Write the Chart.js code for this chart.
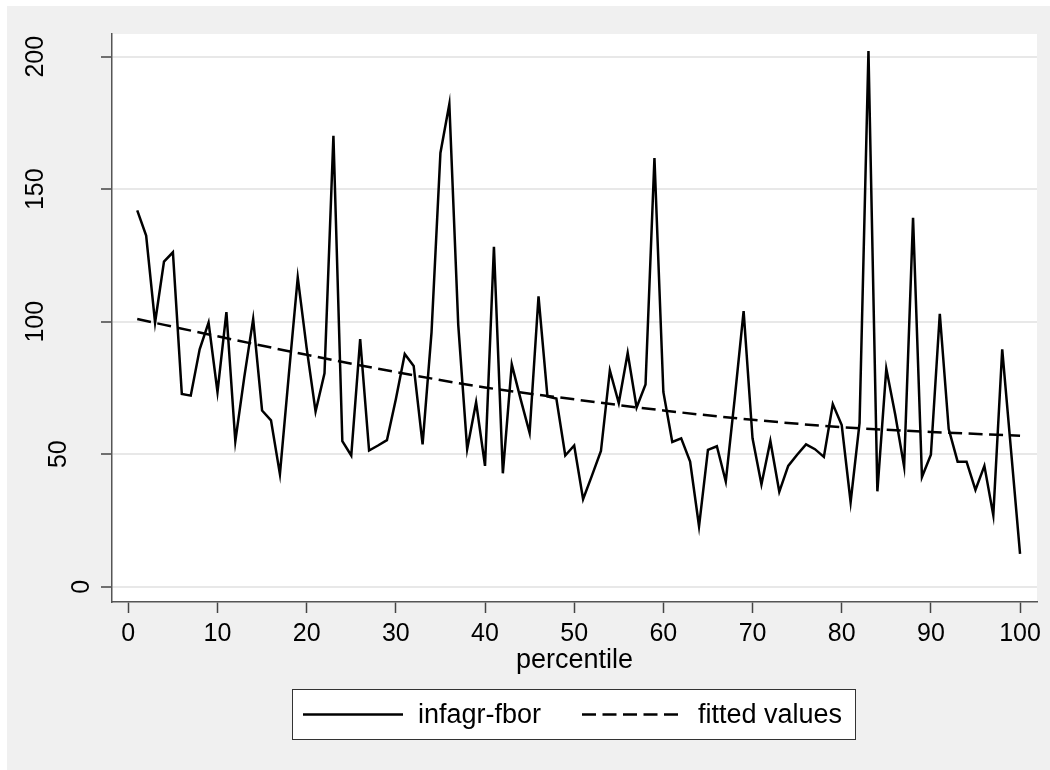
<!DOCTYPE html>
<html>
<head>
<meta charset="utf-8">
<script src="https://cdn.jsdelivr.net/npm/chart.js@4.4.0/dist/chart.umd.min.js"></script>
<style>
  html, body { margin: 0; padding: 0; background: #fff; }
  #wrap { width: 1050px; height: 770px; position: relative; }
</style>
</head>
<body>
<div id="wrap"><canvas id="c" width="1050" height="770"></canvas></div>
<script>
// percentile categories
const percentiles = [1, 2, 3, 4, 5, 6, 7, 8, 9, 10,
  11, 12, 13, 14, 15, 16, 17, 18, 19, 20,
  21, 22, 23, 24, 25, 26, 27, 28, 29, 30,
  31, 32, 33, 34, 35, 36, 37, 38, 39, 40,
  41, 42, 43, 44, 45, 46, 47, 48, 49, 50,
  51, 52, 53, 54, 55, 56, 57, 58, 59, 60,
  61, 62, 63, 64, 65, 66, 67, 68, 69, 70,
  71, 72, 73, 74, 75, 76, 77, 78, 79, 80,
  81, 82, 83, 84, 85, 86, 87, 88, 89, 90,
  91, 92, 93, 94, 95, 96, 97, 98, 99, 100];

// infagr-fbor
const infagrFbor = [142, 132.5, 99.7, 122.7, 126.2, 72.7, 72.1, 89.6, 99.7, 73.5,
  103.6, 54.9, 79, 101, 66.5, 62.8, 42.5, 80, 116.7, 90,
  66.1, 80.5, 170.2, 54.9, 49.5, 93.4, 51.4, 53.3, 55.3, 70.7,
  87.8, 83.3, 53.7, 95.9, 163.7, 182.1, 98.7, 51.9, 69.6, 45.6,
  128.3, 42.8, 83.9, 70.7, 58.1, 109.6, 71.8, 71, 49.5, 53.3,
  33, 42, 51.2, 81.6, 69.3, 88.2, 67.6, 76.3, 161.8, 73.5,
  54.6, 56, 47.2, 22.8, 51.6, 53, 39.7, 71, 104, 56,
  38.6, 55, 35.8, 45.6, 49.8, 53.7, 51.9, 49, 68.9, 61,
  31.9, 61.7, 202.1, 36, 82.3, 65, 45.3, 139.2, 41.4, 49.8,
  103, 59.5, 47.2, 47.2, 36.5, 45.6, 27, 89.6, 51, 12.4];

// fitted values, read at a few percentiles
const fittedX = [1, 10, 20, 30, 40, 50, 60, 70, 80, 90, 100];
const fittedY = [101, 94.5, 87.5, 81, 75.2, 70.7, 66.5, 63, 60.2, 58.4, 57];

const xTicks = [0, 10, 20, 30, 40, 50, 60, 70, 80, 90, 100];
const yTicks = [0, 50, 100, 150, 200];

const FONT = "'Liberation Sans', Arial, sans-serif";

const background = {
  id: "background",
  beforeDraw(chart) {
    const { ctx, chartArea: a } = chart;
    ctx.save();
    ctx.fillStyle = "#ffffff";
    ctx.fillRect(0, 0, chart.width, chart.height);
    ctx.fillStyle = "#f0f0f0";
    ctx.fillRect(7, 6, chart.width - 7, chart.height - 6);
    ctx.fillStyle = "#ffffff";
    ctx.fillRect(a.left, a.top, a.right - a.left, a.bottom - a.top);
    ctx.restore();
  },
};

// rotated y labels, stata style
const yLabels = {
  id: "yLabels",
  afterDraw(chart) {
    const { ctx } = chart;
    const y = chart.scales.y;
    ctx.save();
    ctx.font = "25px " + FONT;
    ctx.fillStyle = "#000";
    ctx.textAlign = "center";
    ctx.textBaseline = "middle";
    yTicks.forEach((v) => {
      const s = String(v);
      const cx = 104 - 23 * s.length;
      const cy = y.getPixelForValue(v);
      ctx.save();
      ctx.translate(cx, cy);
      ctx.rotate(-Math.PI / 2);
      ctx.fillText(s, 0, 1);
      ctx.restore();
    });
    ctx.restore();
  },
};

const boxLegend = {
  id: "boxLegend",
  afterDraw(chart) {
    const { ctx } = chart;
    const ds = chart.data.datasets;
    ctx.save();
    ctx.fillStyle = "#fff";
    ctx.fillRect(292, 689, 564, 51);
    ctx.strokeStyle = "#333";
    ctx.lineWidth = 1;
    ctx.strokeRect(292.5, 689.5, 563, 50);

    const items = [
      { x0: 303, x1: 403, tx: 418 },
      { x0: 582, x1: 678, tx: 698 },
    ];
    ctx.font = "27px " + FONT;
    ctx.textBaseline = "middle";
    ctx.fillStyle = "#000";
    items.forEach((it, i) => {
      ctx.beginPath();
      ctx.setLineDash(ds[i].borderDash || []);
      ctx.lineWidth = ds[i].borderWidth;
      ctx.strokeStyle = ds[i].borderColor;
      ctx.moveTo(it.x0, 714.5);
      ctx.lineTo(it.x1, 714.5);
      ctx.stroke();
      ctx.setLineDash([]);
      ctx.fillText(ds[i].label, it.tx, 716);
    });
    ctx.restore();
  },
};

new Chart(document.getElementById("c"), {
  type: "line",
  data: {
    datasets: [
      {
        label: "infagr-fbor",
        data: percentiles.map((p, i) => ({ x: p, y: infagrFbor[i] })),
        borderColor: "#000",
        borderWidth: 2.5,
        pointRadius: 0,
        tension: 0,
      },
      {
        label: "fitted values",
        data: fittedX.map((p, i) => ({ x: p, y: fittedY[i] })),
        borderColor: "#000",
        borderWidth: 2.5,
        borderDash: [14, 6.5],
        pointRadius: 0,
        cubicInterpolationMode: "monotone",
      },
    ],
  },
  options: {
    responsive: false,
    animation: false,
    devicePixelRatio: 1,
    layout: { padding: { left: 0, top: 34, right: 13, bottom: 0 } },
    plugins: { legend: { display: false }, tooltip: { enabled: false } },
    scales: {
      x: {
        type: "linear",
        min: -1.83,
        max: 101.9,
        afterBuildTicks: (s) => { s.ticks = xTicks.map((v) => ({ value: v })); },
        afterFit: (s) => { s.height = 168; },
        grid: { drawOnChartArea: false, drawTicks: true, tickLength: 11, tickColor: "#444", tickWidth: 1.5 },
        border: { color: "#555", width: 1.5 },
        ticks: { color: "#000", font: { family: FONT, size: 25 }, padding: 6, maxRotation: 0 },
        title: { display: true, text: "percentile", color: "#000", font: { family: FONT, size: 27 }, padding: { top: 0, bottom: 93 } },
      },
      y: {
        type: "linear",
        min: -5.77,
        max: 208.57,
        afterBuildTicks: (s) => { s.ticks = yTicks.map((v) => ({ value: v })); },
        afterFit: (s) => { s.width = 112; },
        grid: { color: "#e8e8e8", lineWidth: 2, drawTicks: true, tickLength: 11, tickColor: "#444", tickWidth: 1.5 },
        border: { color: "#555", width: 1.5 },
        ticks: { display: false },
      },
    },
  },
  plugins: [background, yLabels, boxLegend],
});
</script>
</body>
</html>
